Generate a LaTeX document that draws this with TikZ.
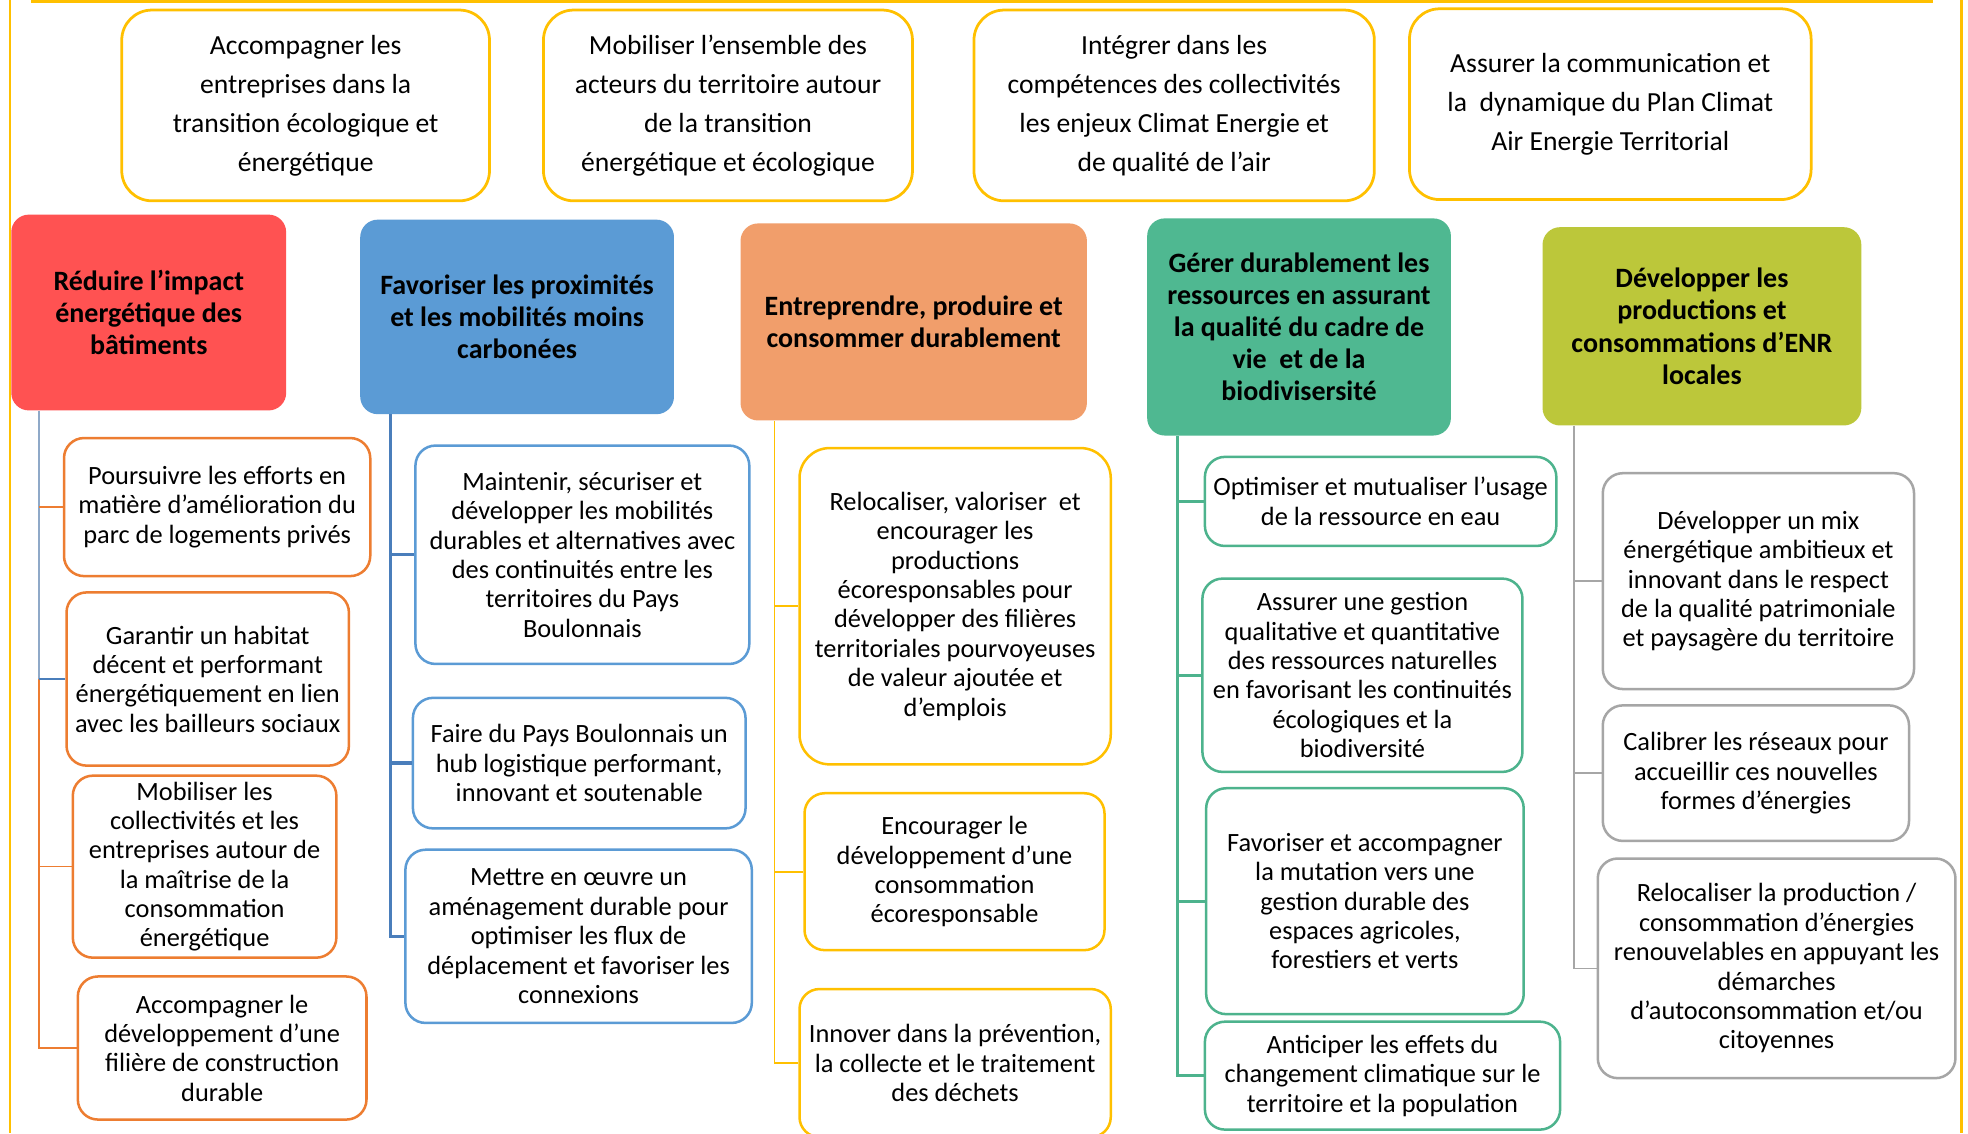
\documentclass[tikz,border=0pt]{standalone}
\usepackage{fontspec}
\setmainfont{Carlito}
\definecolor{yel}{HTML}{FFC000}
\definecolor{hred}{HTML}{FF5252}
\definecolor{hblue}{HTML}{5B9BD5}
\definecolor{horange}{HTML}{F19E6B}
\definecolor{hgreen}{HTML}{4FB891}
\definecolor{holive}{HTML}{BCC73A}
\definecolor{borange}{HTML}{ED7D31}
\definecolor{bblue}{HTML}{5B9BD5}
\definecolor{cblue}{HTML}{4A7EBB}
\definecolor{cgray}{HTML}{8FA9C8}
\definecolor{bgreen}{HTML}{4DB38D}
\definecolor{bgray}{HTML}{A6A6A6}
\tikzset{
  topbox/.style={draw=yel, line width=2.2, fill=white, rounded corners=24, align=center, inner sep=0,
    font=\fontsize{22}{31}\selectfont},
  head/.style={rounded corners=14, align=center, inner sep=0,
    font=\fontsize{22.3}{25.6}\selectfont\bfseries},
  sub/.style={line width=2, fill=white, rounded corners=16, align=center, inner sep=0,
    font=\fontsize{21}{23.4}\selectfont},
  thin/.style={line width=1.3},
  thick/.style={line width=2.6},
}
\begin{document}
\begin{tikzpicture}[x=1pt,y=-1pt]
\useasboundingbox (0,0) rectangle (1568,903);
\clip (0,0) rectangle (1568,903);
\fill[white] (0,0) rectangle (1568,903);
% frame
\draw[yel, line width=2] (25,1) -- (1540,1);
\draw[yel, line width=2] (8,0) -- (8,903);
\draw[yel, line width=2] (1563,0) -- (1563,903);
% top boxes
\node[topbox, minimum width=293, minimum height=152] (t1) at (243.5,84) {Accompagner les\\entreprises dans la\\transition écologique et\\énergétique};
\node[topbox, minimum width=294, minimum height=152] (t2) at (580,84) {Mobiliser l’ensemble des\\acteurs du territoire autour\\de la transition\\énergétique et écologique};
\node[topbox, minimum width=319, minimum height=152] (t3) at (935.5,84) {Intégrer dans les\\compétences des collectivités\\les enjeux Climat Energie et\\de qualité de l’air};
\node[topbox, minimum width=320, minimum height=152] (t4) at (1283,83) {Assurer la communication et\\la\ \ dynamique du Plan Climat\\Air Energie Territorial};
% headers
\node[head, fill=hred, minimum width=219, minimum height=156] (h1) at (118.5,249) {Réduire l’impact\\énergétique des\\bâtiments};
\node[head, fill=hblue, minimum width=250, minimum height=155] (h2) at (412,252.5) {Favoriser les proximités\\et les mobilités moins\\carbonées};
\node[head, fill=horange, minimum width=276, minimum height=157] (h3) at (728,256.5) {Entreprendre, produire et\\consommer durablement};
\node[head, fill=hgreen, minimum width=242, minimum height=173] (h4) at (1035,260.5) {Gérer durablement les\\ressources en assurant\\la qualité du cadre de\\vie\ \ et de la\\biodivisersité};
\node[head, fill=holive, minimum width=254, minimum height=158] (h5) at (1356,260) {Développer les\\productions et\\consommations d’ENR\\locales};
% connector x positions
\coordinate (v1) at (31,0);
\coordinate (v2) at (311,0);
\coordinate (v3) at (617,0);
\coordinate (v4) at (938,0);
\coordinate (v5) at (1254,0);
% column 1
\node[sub, draw=borange, minimum width=244, minimum height=110] (s1a) at (173,404) {Poursuivre les efforts en\\matière d’amélioration du\\parc de logements privés};
\node[sub, draw=borange, minimum width=225, minimum height=138] (s1b) at (165.5,541) {Garantir un habitat\\décent et performant\\énergétiquement en lien\\avec les bailleurs sociaux};
\node[sub, draw=borange, minimum width=210, minimum height=145] (s1c) at (163,690.5) {Mobiliser les\\collectivités et les\\entreprises autour de\\la maîtrise de la\\consommation\\énergétique};
\node[sub, draw=borange, minimum width=230, minimum height=114] (s1d) at (177,835) {Accompagner le\\développement d’une\\filière de construction\\durable};
% column 2
\node[sub, draw=bblue, minimum width=266, minimum height=174] (s2a) at (464,442) {Maintenir, sécuriser et\\développer les mobilités\\durables et alternatives avec\\des continuités entre les\\territoires du Pays\\Boulonnais};
\node[sub, draw=bblue, minimum width=265, minimum height=104] (s2b) at (461.5,608) {Faire du Pays Boulonnais un\\hub logistique performant,\\innovant et soutenable};
\node[sub, draw=bblue, minimum width=276, minimum height=138] (s2c) at (461,746) {Mettre en œuvre un\\aménagement durable pour\\optimiser les flux de\\déplacement et favoriser les\\connexions};
% column 3
\node[sub, draw=yel, rounded corners=24, minimum width=248, minimum height=252] (s3a) at (761,483) {Relocaliser, valoriser\ \ et\\encourager les\\productions\\écoresponsables pour\\développer des filières\\territoriales pourvoyeuses\\de valeur ajoutée et\\d’emplois};
\node[sub, draw=yel, minimum width=239, minimum height=125] (s3b) at (760.5,694.5) {Encourager le\\développement d’une\\consommation\\écoresponsable};
\node[sub, draw=yel, minimum width=248, minimum height=118] (s3c) at (761,847) {Innover dans la prévention,\\la collecte et le traitement\\des déchets};
% column 4
\node[sub, draw=bgreen, minimum width=280, minimum height=71] (s4a) at (1100,399.5) {Optimiser et mutualiser l’usage\\de la ressource en eau};
\node[sub, draw=bgreen, minimum width=255, minimum height=154] (s4b) at (1085.5,538) {Assurer une gestion\\qualitative et quantitative\\des ressources naturelles\\en favorisant les continuités\\écologiques et la\\biodiversité};
\node[sub, draw=bgreen, minimum width=253, minimum height=180] (s4c) at (1087.5,718) {Favoriser et accompagner\\la mutation vers une\\gestion durable des\\espaces agricoles,\\forestiers et verts};
\node[sub, draw=bgreen, minimum width=283, minimum height=86] (s4d) at (1101.5,857) {Anticiper les effets du\\changement climatique sur le\\territoire et la population};
% column 5
\node[sub, draw=bgray, minimum width=248, minimum height=172] (s5a) at (1401,463) {Développer un mix\\énergétique ambitieux et\\innovant dans le respect\\de la qualité patrimoniale\\et paysagère du territoire};
\node[sub, draw=bgray, minimum width=244, minimum height=108] (s5b) at (1399,616) {Calibrer les réseaux pour\\accueillir ces nouvelles\\formes d’énergies};
\node[sub, draw=bgray, minimum width=285, minimum height=175] (s5c) at (1415.5,771.5) {Relocaliser la production /\\consommation d’énergies\\renouvelables en appuyant les\\démarches\\d’autoconsommation et/ou\\citoyennes};
% connectors column 1
\draw[thin, cgray] (h1.south -| v1) -- (v1 |- s1b.west);
\draw[thin, borange] (v1 |- s1b.west) |- (s1d.west);
\draw[thin, borange] (v1 |- s1a.west) -- (s1a.west);
\draw[line width=2, cblue] (v1 |- s1b.west) -- (s1b.west);
\draw[thin, borange] (v1 |- s1c.west) -- (s1c.west);
% connectors column 2
\draw[thick, cblue] (h2.south -| v2) |- (s2c.west);
\draw[thick, cblue] (v2 |- s2a.west) -- (s2a.west);
\draw[thick, cblue] (v2 |- s2b.west) -- (s2b.west);
% connectors column 3
\draw[thin, yel] (h3.south -| v3) |- (s3c.west);
\draw[thin, yel] (v3 |- s3a.west) -- (s3a.west);
\draw[thin, yel] (v3 |- s3b.west) -- (s3b.west);
% connectors column 4
\draw[thick, bgreen] (h4.south -| v4) |- (s4d.west);
\draw[thick, bgreen] (v4 |- s4a.west) -- (s4a.west);
\draw[thick, bgreen] (v4 |- s4b.west) -- (s4b.west);
\draw[thick, bgreen] (v4 |- s4c.west) -- (s4c.west);
% connectors column 5
\draw[thin, bgray] (h5.south -| v5) |- (s5c.west);
\draw[thin, bgray] (v5 |- s5a.west) -- (s5a.west);
\draw[thin, bgray] (v5 |- s5b.west) -- (s5b.west);
\end{tikzpicture}
\end{document}
